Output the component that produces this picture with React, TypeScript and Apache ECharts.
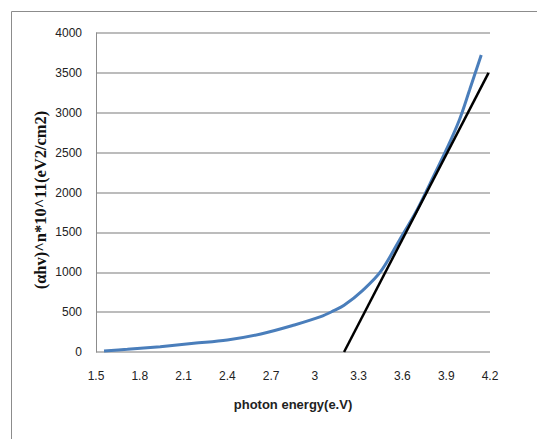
import React, { useEffect, useRef } from "react";
import * as echarts from "echarts";

const energyX = [1.555, 1.715, 1.94, 2.17, 2.4, 2.63, 2.86, 3.04, 3.13, 3.2, 3.33, 3.45, 3.58, 3.7, 3.79, 3.9, 3.99, 4.06, 4.14];
const absorbY = [12, 33, 67, 109, 150, 226, 339, 443, 518, 585, 777, 1007, 1404, 1781, 2115, 2533, 2909, 3285, 3724];
const fitX = [3.2, 4.19];
const fitY = [0, 3500];

const xTitle = "photon energy(e.V)";
const yTitle = "(\u03b1hv)^n*10^11(eV2/cm2)";

export default function App() {
  const ref = useRef<HTMLDivElement>(null);
  useEffect(() => {
    if (!ref.current) return;
    const chart = echarts.init(ref.current, null, { renderer: "svg" });
    const curve = energyX.map((x, i) => [x, absorbY[i]]);
    const fit = fitX.map((x, i) => [x, fitY[i]]);
    chart.setOption({
      animation: false,
      backgroundColor: "#ffffff",
      grid: { left: 96, right: 47, top: 33, bottom: 87 },
      graphic: [
        {
          type: "rect",
          shape: { x: 11.5, y: 11.5, width: 600, height: 500 },
          style: { fill: "none", stroke: "#8c8c8c", lineWidth: 1 },
          z: -1,
        },
        {
          type: "text",
          x: 40,
          y: 200,
          rotation: Math.PI / 2,
          style: {
            text: yTitle,
            font: "bold 16.5px 'Liberation Serif'",
            fill: "#111",
            align: "center",
            verticalAlign: "middle",
          },
        },
      ],
      xAxis: {
        type: "value",
        min: 1.5,
        max: 4.2,
        interval: 0.3,
        axisLine: { show: false },
        axisTick: { show: false },
        splitLine: { show: false },
        axisLabel: {
          margin: 18,
          color: "#222",
          fontFamily: "Liberation Sans",
          fontSize: 12,
          formatter: (v: number) => String(Math.round(v * 10) / 10),
        },
        name: xTitle,
        nameLocation: "middle",
        nameGap: 46,
        nameTextStyle: { fontFamily: "Liberation Sans", fontSize: 13, fontWeight: "bold", color: "#222" },
      },
      yAxis: {
        type: "value",
        min: 0,
        max: 4000,
        interval: 500,
        axisLine: { show: true, lineStyle: { color: "#8c8c8c", width: 1 } },
        axisTick: { show: false },
        splitLine: { show: true, lineStyle: { color: "#a6a6a6", width: 1.5 } },
        axisLabel: {
          margin: 14,
          color: "#222",
          fontFamily: "Liberation Sans",
          fontSize: 12,
          formatter: (v: number) => String(v),
        },
      },
      series: [
        {
          type: "line",
          data: curve,
          smooth: 0.35,
          showSymbol: false,
          lineStyle: { color: "#4a7ebb", width: 3 },
          z: 3,
        },
        {
          type: "line",
          data: fit,
          showSymbol: false,
          lineStyle: { color: "#000000", width: 2.5 },
          z: 4,
        },
      ],
    });
    return () => chart.dispose();
  }, []);
  return <div ref={ref} style={{ position: "absolute", left: 0, top: 0, width: 537, height: 439 }} />;
}
